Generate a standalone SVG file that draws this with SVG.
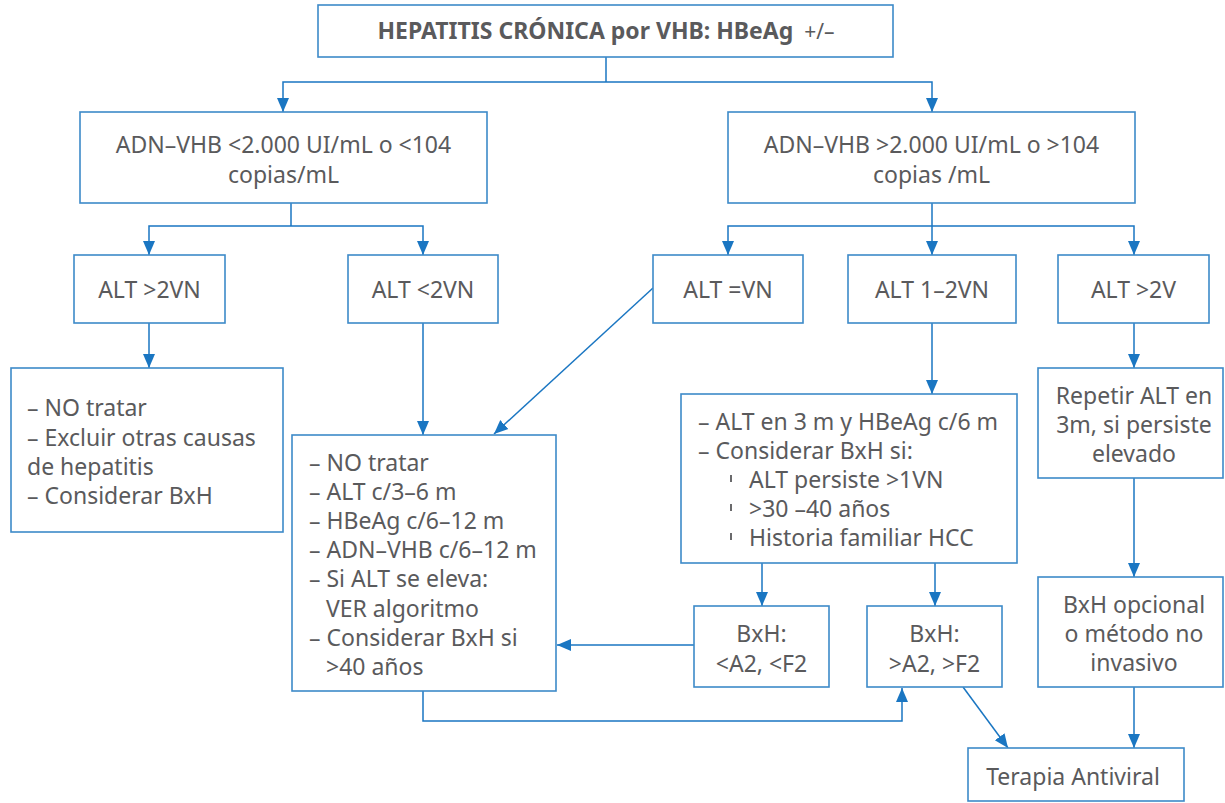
<svg xmlns="http://www.w3.org/2000/svg" width="1225" height="803" viewBox="0 0 1225 803">
<style>
.box{fill:#ffffff;stroke:#3d8ac9;stroke-width:1.6}
.t{font-family:"Noto Sans","Open Sans","Liberation Sans",sans-serif;font-size:23px;fill:#5a5a5c}
.m{text-anchor:middle}
.b{font-weight:bold}
.c{fill:none;stroke:#1a76c2;stroke-width:1.5}
.a{marker-end:url(#ah)}
.tick{fill:#6a6a6c}
</style>
<defs>
<marker id="ah" markerUnits="userSpaceOnUse" markerWidth="15" markerHeight="15" viewBox="0 0 15 15" refX="14" refY="7.5" orient="auto">
<path d="M0,1.5 L14,7.5 L0,13.5 Z" fill="#1a76c2"/>
</marker>
</defs>
<rect width="1225" height="803" fill="#ffffff"/>
<g id="connectors">
<path class="c" d="M606,57 V82"/>
<path class="c a" d="M606,82 H283 V112"/>
<path class="c a" d="M606,82 H932 V112"/>
<path class="c" d="M291,203 V226"/>
<path class="c a" d="M291,226 H149 V255"/>
<path class="c a" d="M291,226 H423 V255"/>
<path class="c a" d="M932,203 V255"/>
<path class="c a" d="M932,226 H728 V255"/>
<path class="c a" d="M932,226 H1134 V255"/>
<path class="c a" d="M149,323 V368"/>
<path class="c a" d="M423,323 V435"/>
<path class="c a" d="M653,288 L494,434"/>
<path class="c a" d="M932,323 V394"/>
<path class="c a" d="M1134,323 V368"/>
<path class="c a" d="M762,563 V606"/>
<path class="c a" d="M935,563 V606"/>
<path class="c a" d="M694,645 H557"/>
<path class="c a" d="M423,691 V721 H902 V688"/>
<path class="c a" d="M963,687 L1008,748"/>
<path class="c a" d="M1134,478 V577"/>
<path class="c a" d="M1134,687 V748"/>
</g>
<g id="title">
<rect class="box" x="318" y="5" width="575" height="52"/>
<text class="t m" x="606" y="39" font-size="22"><tspan class="b">HEPATITIS CRÓNICA por VHB: HBeAg</tspan><tspan font-size="21">&#160; +/–</tspan></text>
</g>
<g id="dna-low">
<rect class="box" x="80" y="112" width="407" height="91"/>
<text class="t m" x="283.5" y="153">ADN–VHB &lt;2.000 UI/mL o &lt;104</text>
<text class="t m" x="283.5" y="183">copias/mL</text>
</g>
<g id="dna-high">
<rect class="box" x="728" y="112" width="407" height="91"/>
<text class="t m" x="931.5" y="153">ADN–VHB &gt;2.000 UI/mL o &gt;104</text>
<text class="t m" x="931.5" y="183">copias /mL</text>
</g>
<g id="alt-gt2vn">
<rect class="box" x="74" y="255" width="151" height="68"/>
<text class="t m" x="149.5" y="298">ALT &gt;2VN</text>
</g>
<g id="alt-lt2vn">
<rect class="box" x="348" y="255" width="150" height="68"/>
<text class="t m" x="423" y="298">ALT &lt;2VN</text>
</g>
<g id="alt-eqvn">
<rect class="box" x="653" y="255" width="150" height="68"/>
<text class="t m" x="728" y="298">ALT =VN</text>
</g>
<g id="alt-1-2vn">
<rect class="box" x="848" y="255" width="168" height="68"/>
<text class="t m" x="932" y="298">ALT 1–2VN</text>
</g>
<g id="alt-gt2v">
<rect class="box" x="1058" y="255" width="151" height="68"/>
<text class="t m" x="1133.5" y="298">ALT &gt;2V</text>
</g>
<g id="no-treat-left">
<rect class="box" x="11" y="368" width="272" height="164"/>
<text class="t" x="27" y="416">– NO tratar</text>
<text class="t" x="27" y="446">– Excluir otras causas</text>
<text class="t" x="27" y="475">de hepatitis</text>
<text class="t" x="27" y="504">– Considerar BxH</text>
</g>
<g id="no-treat-mid">
<rect class="box" x="292" y="435" width="264" height="256"/>
<text class="t" x="309" y="471">– NO tratar</text>
<text class="t" x="309" y="500">– ALT c/3–6 m</text>
<text class="t" x="309" y="529">– HBeAg c/6–12 m</text>
<text class="t" x="309" y="558">– ADN–VHB c/6–12 m</text>
<text class="t" x="309" y="587">– Si ALT se eleva:</text>
<text class="t" x="326" y="617">VER algoritmo</text>
<text class="t" x="309" y="646">– Considerar BxH si</text>
<text class="t" x="326" y="675">&gt;40 años</text>
</g>
<g id="follow-up">
<rect class="box" x="681" y="394" width="336" height="169"/>
<text class="t" x="698" y="430">– ALT en 3 m y HBeAg c/6 m</text>
<text class="t" x="698" y="459">– Considerar BxH si:</text>
<rect class="tick" x="730" y="475" width="2" height="7"/>
<text class="t" x="749" y="488">ALT persiste &gt;1VN</text>
<rect class="tick" x="730" y="504" width="2" height="7"/>
<text class="t" x="749" y="517">&gt;30 –40 años</text>
<rect class="tick" x="730" y="533" width="2" height="7"/>
<text class="t" x="749" y="546">Historia familiar HCC</text>
</g>
<g id="bxh-low">
<rect class="box" x="694" y="606" width="135" height="81"/>
<text class="t m" x="761.5" y="642">BxH:</text>
<text class="t m" x="761.5" y="672">&lt;A2, &lt;F2</text>
</g>
<g id="bxh-high">
<rect class="box" x="867" y="606" width="135" height="81"/>
<text class="t m" x="934.5" y="642">BxH:</text>
<text class="t m" x="934.5" y="672">&gt;A2, &gt;F2</text>
</g>
<g id="repetir">
<rect class="box" x="1038" y="368" width="185" height="110"/>
<text class="t m" x="1134" y="404">Repetir ALT en</text>
<text class="t m" x="1134" y="433">3m, si persiste</text>
<text class="t m" x="1134" y="462">elevado</text>
</g>
<g id="opcional">
<rect class="box" x="1038" y="577" width="185" height="110"/>
<text class="t m" x="1134" y="613">BxH opcional</text>
<text class="t m" x="1134" y="642">o método no</text>
<text class="t m" x="1134" y="671">invasivo</text>
</g>
<g id="terapia">
<rect class="box" x="968" y="748" width="216" height="53"/>
<text class="t m" x="1073" y="785">Terapia Antiviral</text>
</g>
</svg>
